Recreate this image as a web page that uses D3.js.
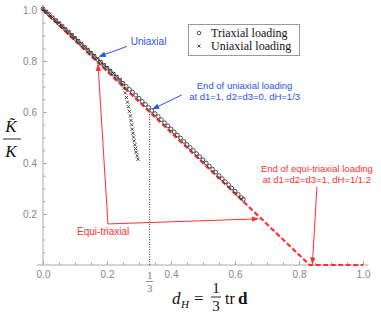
<!DOCTYPE html>
<html>
<head>
<meta charset="utf-8">
<script src="https://cdn.jsdelivr.net/npm/d3@7"></script>
<style>
  body { margin: 0; background: #fff; }
  .tick text { font-family: "Liberation Sans", Arial, sans-serif; font-size: 10px; fill: #888; }
  .tick line { stroke: #aaa; }
  .ann { font-family: "Liberation Sans", Arial, sans-serif; font-size: 9.5px; }
  .serif { font-family: "Liberation Serif", "DejaVu Serif", "Times New Roman", serif; }
</style>
</head>
<body>
<div class="chart"></div>
<script>
// triaxial loading (circles)
var triDH = [0.00, 0.01, 0.02, 0.03, 0.04, 0.05, 0.06, 0.07, 0.08, 0.09,
             0.10, 0.11, 0.12, 0.13, 0.14, 0.15, 0.16, 0.17, 0.18, 0.19,
             0.20, 0.21, 0.22, 0.23, 0.24, 0.25, 0.26, 0.27, 0.28, 0.29,
             0.30, 0.31, 0.32, 0.33, 0.34, 0.35, 0.36, 0.37, 0.38, 0.39,
             0.40, 0.41, 0.42, 0.43, 0.44, 0.45, 0.46, 0.47, 0.48, 0.49,
             0.50, 0.51, 0.52, 0.53, 0.54, 0.55, 0.56, 0.57, 0.58, 0.59,
             0.60, 0.61, 0.62, 0.626];
var triK = [1.000, 0.988, 0.977, 0.965, 0.954, 0.942, 0.931, 0.919, 0.908, 0.896,
            0.884, 0.873, 0.861, 0.849, 0.838, 0.826, 0.814, 0.802, 0.791, 0.779,
            0.767, 0.755, 0.744, 0.732, 0.720, 0.708, 0.696, 0.684, 0.673, 0.661,
            0.649, 0.637, 0.625, 0.613, 0.601, 0.589, 0.577, 0.565, 0.553, 0.541,
            0.529, 0.517, 0.505, 0.493, 0.480, 0.468, 0.456, 0.444, 0.432, 0.420,
            0.408, 0.395, 0.383, 0.371, 0.359, 0.346, 0.334, 0.322, 0.310, 0.297,
            0.285, 0.272, 0.260, 0.253];

// uniaxial loading (crosses)
var uniDH = [0.000, 0.010, 0.020, 0.030, 0.040, 0.050, 0.060, 0.070, 0.080, 0.090,
             0.100, 0.110, 0.120, 0.130, 0.140, 0.150, 0.160, 0.170, 0.180, 0.190,
             0.200, 0.210, 0.220, 0.230, 0.240, 0.248, 0.253, 0.257, 0.261, 0.264,
             0.267, 0.270, 0.273, 0.275, 0.277, 0.279, 0.281, 0.283, 0.285, 0.287,
             0.289, 0.291, 0.294, 0.297];
var uniK = [1.000, 0.989, 0.978, 0.966, 0.955, 0.944, 0.932, 0.921, 0.909, 0.898,
            0.886, 0.875, 0.863, 0.851, 0.840, 0.828, 0.816, 0.805, 0.793, 0.781,
            0.770, 0.758, 0.746, 0.734, 0.721, 0.705, 0.688, 0.670, 0.652, 0.634,
            0.616, 0.598, 0.580, 0.562, 0.545, 0.528, 0.512, 0.497, 0.482, 0.467,
            0.452, 0.438, 0.424, 0.410];

// red dashed reference line
var refDH = [0, 1 / 1.2, 1.0];
var refK = [1, 0, 0];

var xTicks = [0, 0.2, 0.4, 0.6, 0.8, 1.0];
var yTicks = [0.2, 0.4, 0.6, 0.8, 1.0];
var minorTicks = [0.05, 0.1, 0.15, 0.25, 0.3, 0.35, 0.45, 0.5, 0.55, 0.65, 0.7, 0.75, 0.85, 0.9, 0.95];

var legendLabels = ["Triaxial loading", "Uniaxial loading"];

var w = 381, h = 322;
var blue = "#2a52f0", red = "#ff3030";

var xScale = d3.scaleLinear().domain([0, 1]).range([43, 363]);
var yScale = d3.scaleLinear().domain([0, 1]).range([265, 10]);

var svg = d3.select(".chart").append("svg")
    .attr("width", w).attr("height", h);

var defs = svg.append("defs");
function arrowMarker(id, col) {
    defs.append("marker")
        .attr("id", id)
        .attr("viewBox", "0 0 10 10")
        .attr("refX", 9).attr("refY", 5)
        .attr("markerWidth", 7).attr("markerHeight", 7)
        .attr("markerUnits", "userSpaceOnUse")
        .attr("orient", "auto")
        .append("path")
        .attr("d", "M0,1 L10,5 L0,9 Z")
        .attr("fill", col);
}
arrowMarker("arrBlue", blue);
arrowMarker("arrRed", red);

// axes lines
svg.append("line")
    .attr("x1", xScale(-0.02)).attr("x2", xScale(1.017))
    .attr("y1", yScale(0)).attr("y2", yScale(0))
    .style("stroke", "#aaa");
svg.append("line")
    .attr("x1", xScale(0)).attr("x2", xScale(0))
    .attr("y1", yScale(0)).attr("y2", yScale(1.02))
    .style("stroke", "#aaa");

var xAxis = d3.axisBottom(xScale).tickValues(xTicks).tickSize(-4).tickPadding(6)
    .tickFormat(d3.format(".1f"));
var xMinor = d3.axisBottom(xScale).tickValues(minorTicks).tickSize(-2.5).tickFormat("");
var yAxis = d3.axisLeft(yScale).tickValues(yTicks).tickSize(-4).tickPadding(6)
    .tickFormat(d3.format(".1f"));
var yMinor = d3.axisLeft(yScale).tickValues(minorTicks).tickSize(-2.5).tickFormat("");

[[xAxis, "x"], [xMinor, "x"], [yAxis, "y"], [yMinor, "y"]].forEach(function (a) {
    var g = svg.append("g").call(a[0])
        .attr("transform", a[1] == "x" ? "translate(0," + yScale(0) + ")" : "translate(" + xScale(0) + ",0)");
    g.select(".domain").remove();
});

// 1/3 tick label
var third = svg.append("g").attr("transform", "translate(" + xScale(1 / 3) + ",0)")
    .style("font-family", "Liberation Serif, serif").style("font-size", "11px").style("fill", "#777");
third.append("text").attr("x", 0).attr("y", 279).attr("text-anchor", "middle").text("1");
third.append("line").attr("x1", -3.5).attr("x2", 3.5).attr("y1", 281.5).attr("y2", 281.5)
    .style("stroke", "#777").style("stroke-width", 0.8);
third.append("text").attr("x", 0).attr("y", 292).attr("text-anchor", "middle").text("3");

// dotted line at dH = 1/3
svg.append("line")
    .attr("x1", xScale(1 / 3)).attr("x2", xScale(1 / 3))
    .attr("y1", yScale(0)).attr("y2", yScale(0.605))
    .style("stroke", "#222").style("stroke-width", 0.9)
    .style("stroke-dasharray", "1,1.5");

// red dashed line
var refData = refDH.map(function (d, i) { return [d, refK[i]]; });
svg.append("path")
    .datum(refData)
    .attr("d", d3.line().x(function (d) { return xScale(d[0]); }).y(function (d) { return yScale(d[1]); }))
    .style("fill", "none").style("stroke", red).style("stroke-width", 2.2)
    .style("stroke-dasharray", "5,2.5");

// uniaxial crosses
var cross = 1.6;
svg.append("g").selectAll("path")
    .data(uniDH.map(function (d, i) { return [d, uniK[i]]; }))
    .enter().append("path")
    .attr("transform", function (d) { return "translate(" + xScale(d[0]) + "," + (yScale(d[1]) - 1.2) + ")"; })
    .attr("d", "M" + -cross + "," + -cross + "L" + cross + "," + cross + "M" + -cross + "," + cross + "L" + cross + "," + -cross)
    .style("stroke", "#333").style("stroke-width", 0.9);

// triaxial circles
svg.append("g").selectAll("circle")
    .data(triDH.map(function (d, i) { return [d, triK[i]]; }))
    .enter().append("circle")
    .attr("cx", function (d) { return xScale(d[0]); })
    .attr("cy", function (d) { return yScale(d[1]) - 1.2; })
    .attr("r", 1.9)
    .style("fill", "none").style("stroke", "#222").style("stroke-width", 0.8);

// legend
var lg = svg.append("g");
lg.append("rect").attr("x", 188.5).attr("y", 24.5).attr("width", 111).attr("height", 31)
    .style("fill", "#fff").style("stroke", "#999");
lg.append("circle").attr("cx", 199).attr("cy", 33).attr("r", 1.8)
    .style("fill", "none").style("stroke", "#222").style("stroke-width", 0.8);
lg.append("path").attr("transform", "translate(199,46)")
    .attr("d", "M-1.5,-1.5L1.5,1.5M-1.5,1.5L1.5,-1.5")
    .style("stroke", "#333").style("stroke-width", 0.9);
lg.selectAll("text").data(legendLabels).enter().append("text")
    .attr("class", "serif")
    .attr("x", 211).attr("y", function (d, i) { return 37 + i * 13; })
    .style("font-size", "12px").style("fill", "#111")
    .text(function (d) { return d; });

// annotations
function arrow(x1, y1, x2, y2, id, col) {
    svg.append("line")
        .attr("x1", xScale(x1)).attr("y1", yScale(y1))
        .attr("x2", xScale(x2)).attr("y2", yScale(y2))
        .style("stroke", col).style("stroke-width", 1)
        .attr("marker-end", "url(#" + id + ")");
}

svg.append("text").attr("class", "ann")
    .attr("x", xScale(0.33)).attr("y", yScale(0.875) + 3.5)
    .attr("text-anchor", "middle").style("fill", blue).style("font-size", "10px")
    .text("Uniaxial");
arrow(0.262, 0.857, 0.176, 0.818, "arrBlue", blue);

svg.append("text").attr("class", "ann")
    .attr("x", xScale(0.63)).attr("y", yScale(0.702) + 3.5)
    .attr("text-anchor", "middle").style("fill", blue)
    .text("End of uniaxial loading");
svg.append("text").attr("class", "ann")
    .attr("x", xScale(0.63)).attr("y", yScale(0.659) + 3.5)
    .attr("text-anchor", "middle").style("fill", blue)
    .text("at d1=1, d2=d3=0, dH=1/3");
arrow(0.434, 0.667, 0.343, 0.612, "arrBlue", blue);

svg.append("text").attr("class", "ann")
    .attr("x", xScale(0.188)).attr("y", yScale(0.133) + 3.5)
    .attr("text-anchor", "middle").style("fill", red).style("font-size", "10px")
    .text("Equi-triaxial");
svg.append("line")
    .attr("x1", xScale(0.203)).attr("y1", yScale(0.161))
    .attr("x2", xScale(0.172)).attr("y2", yScale(0.786))
    .style("stroke", red).style("stroke-width", 1)
    .attr("marker-end", "url(#arrRed)");
svg.append("line")
    .attr("x1", xScale(0.203)).attr("y1", yScale(0.161))
    .attr("x2", xScale(0.672)).attr("y2", yScale(0.181))
    .style("stroke", red).style("stroke-width", 1)
    .attr("marker-end", "url(#arrRed)");

svg.append("text").attr("class", "ann")
    .attr("x", xScale(0.856)).attr("y", yScale(0.38) + 3.5)
    .attr("text-anchor", "middle").style("fill", red)
    .text("End of equi-triaxial loading");
svg.append("text").attr("class", "ann")
    .attr("x", xScale(0.856)).attr("y", yScale(0.337) + 3.5)
    .attr("text-anchor", "middle").style("fill", red)
    .text("at d1=d2=d3=1, dH=1/1.2");
arrow(0.856, 0.306, 0.842, 0.005, "arrRed", red);

// y label  K~ / K
var yl = svg.append("g").attr("class", "serif").style("fill", "#111");
yl.append("text").attr("x", 11).attr("y", 132).attr("text-anchor", "middle")
    .style("font-size", "17px").style("font-style", "italic").text("K\u0303");
yl.append("line").attr("x1", 3).attr("x2", 21).attr("y1", 139).attr("y2", 139)
    .style("stroke", "#111").style("stroke-width", 0.9);
yl.append("text").attr("x", 11).attr("y", 157).attr("text-anchor", "middle")
    .style("font-size", "17px").style("font-style", "italic").text("K");

// x label  dH = 1/3 tr d
var xl = svg.append("g").attr("class", "serif").style("fill", "#111");
xl.append("text").attr("x", 172).attr("y", 304)
    .style("font-size", "17px").style("font-style", "italic").text("d");
xl.append("text").attr("x", 181).attr("y", 308)
    .style("font-size", "11px").style("font-style", "italic").text("H");
xl.append("text").attr("x", 194).attr("y", 304)
    .style("font-size", "17px").text("=");
xl.append("text").attr("x", 216).attr("y", 293).attr("text-anchor", "middle")
    .style("font-size", "15px").text("1");
xl.append("line").attr("x1", 211).attr("x2", 221).attr("y1", 297).attr("y2", 297)
    .style("stroke", "#111").style("stroke-width", 0.9);
xl.append("text").attr("x", 216).attr("y", 311).attr("text-anchor", "middle")
    .style("font-size", "15px").text("3");
xl.append("text").attr("x", 225).attr("y", 304)
    .style("font-size", "16px").text("tr");
xl.append("text").attr("x", 238).attr("y", 304)
    .style("font-size", "17px").style("font-weight", "bold").text("d");
</script>
</body>
</html>
